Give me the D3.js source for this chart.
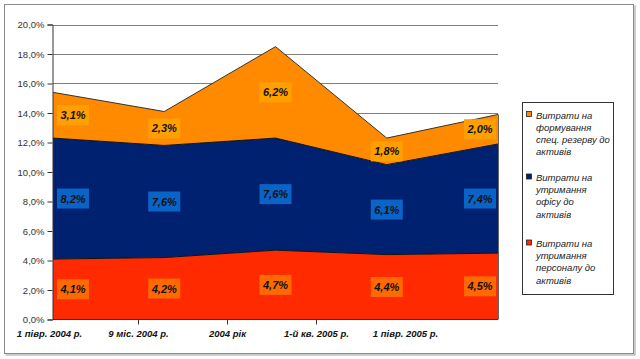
<!DOCTYPE html>
<html><head><meta charset="utf-8">
<script src="https://cdn.jsdelivr.net/npm/d3@7"></script>
<style>
html,body{margin:0;padding:0;background:#fff;}
svg{display:block;font-family:"Liberation Sans",Arial,sans-serif;}
</style></head>
<body>
<svg id="c" width="640" height="359"></svg>
<script>
const categories = ["1 пiвр. 2004 р.", "9 міс. 2004 р.", "2004 рік", "1-й кв. 2005 р.", "1 пiвр. 2005 р."];
const personnel = [4.1, 4.2, 4.7, 4.4, 4.5];
const office = [8.2, 7.6, 7.6, 6.1, 7.4];
const reserve = [3.1, 2.3, 6.2, 1.8, 2.0];
const yTicks = [0, 2, 4, 6, 8, 10, 12, 14, 16, 18, 20];
const seriesNames = ["Витрати на утримання персоналу до активів", "Витрати на утримання офісу до активів", "Витрати на формування спец. резерву до активів"];
const legendLines = [
  ["Витрати на", "формування", "спец. резерву до", "активів"],
  ["Витрати на", "утримання", "офісу до", "активів"],
  ["Витрати на", "утримання", "персоналу до", "активів"]
];
const areaColors = ["#ff2a00", "#00216f", "#ff8a00"];
const labelColors = ["#ff6a00", "#0a64c8", "#ffa000"];

const svg = d3.select("#c");
svg.append("rect").attr("x", 4.5).attr("y", 4.5).attr("width", 629).attr("height", 349)
  .attr("fill", "#fff").attr("stroke", "#8a8a8a").attr("stroke-width", 1);
svg.append("path").attr("d", "M635,5.5 V355 H5.5").attr("fill", "none").attr("stroke", "#9a9a9a").attr("stroke-width", 1);

const x0 = 53, x1 = 498, yBot = 319.5, yTop = 24.5;
const x = d3.scalePoint().domain(categories).range([x0, x1]);
const xLab = d3.scalePoint().domain(categories).range([49, 405]);
const y = d3.scaleLinear().domain([0, 20]).range([yBot, yTop]);

// gridlines
svg.append("g").selectAll("line").data(yTicks.filter(d => d > 0)).join("line")
  .attr("x1", x0).attr("x2", x1).attr("y1", d => Math.round(y(d)) + 0.5).attr("y2", d => Math.round(y(d)) + 0.5)
  .attr("stroke", "#808080").attr("stroke-width", 1);

// stack
const rows = categories.map((c, i) => ({cat: c, p: personnel[i], o: office[i], r: reserve[i]}));
const stack = d3.stack().keys(["p", "o", "r"])(rows);
const area = d3.area().x(d => x(d.data.cat)).y0(d => y(d[0])).y1(d => y(d[1]));
const line = d3.line().x(d => x(d.data.cat)).y(d => y(d[1]));
svg.append("g").selectAll("path").data(stack).join("path")
  .attr("d", area).attr("fill", (d, i) => areaColors[i]);
svg.append("g").selectAll("path").data(stack).join("path")
  .attr("d", line).attr("fill", "none").attr("stroke", (d, i) => i === 2 ? "#333" : "#111").attr("stroke-width", 1);
// right edge line
svg.append("line").attr("x1", x1 + 0.5).attr("x2", x1 + 0.5).attr("y1", y(stack[2][4][1])).attr("y2", yBot)
  .attr("stroke", "#666");

// y axis
const yAxis = d3.axisLeft(y).tickValues(yTicks).tickSize(5).tickPadding(3)
  .tickFormat(d => d3.format(".1f")(d).replace(".", ",") + "%");
const gy = svg.append("g").attr("transform", `translate(${x0 - 0.5},0)`).call(yAxis);
gy.select(".domain").attr("stroke", "#333");
gy.selectAll(".tick line").attr("stroke", "#333");
gy.selectAll(".tick text").attr("font-size", 9.5).attr("fill", "#333").attr("font-family", "Liberation Sans, Arial, sans-serif");

// x axis line
svg.append("line").attr("x1", x0).attr("x2", x1).attr("y1", yBot).attr("y2", yBot).attr("stroke", "#333");
const xAxis = d3.axisBottom(xLab).tickSize(5).tickPadding(6);
const gx = svg.append("g").attr("transform", `translate(0,${yBot})`).call(xAxis);
gx.select(".domain").remove();
gx.selectAll(".tick line").attr("stroke", "#333").attr("opacity", (d, i) => (i > 0 && i < 4) ? 1 : 0);
gx.selectAll(".tick text").attr("font-size", 9.5).attr("font-weight", "bold").attr("font-style", "italic")
  .attr("fill", "#111").attr("font-family", "Liberation Sans, Arial, sans-serif");

// data labels
const bw = 32, bh = 20;
stack.forEach((s, si) => {
  const g = svg.append("g");
  s.forEach((d, i) => {
    let cx = x(d.data.cat);
    cx = Math.max(x0 + 4 + bw / 2, Math.min(cx, x1 - 2 - bw / 2));
    const cy = y((d[0] + d[1]) / 2);
    g.append("rect").attr("x", cx - bw / 2).attr("y", cy - bh / 2).attr("width", bw).attr("height", bh)
      .attr("fill", labelColors[si]);
    g.append("text").attr("x", cx).attr("y", cy + 4).attr("text-anchor", "middle")
      .attr("font-size", 11).attr("font-weight", "bold").attr("font-style", "italic").attr("fill", "#111")
      .text(d3.format(".1f")(d[1] - d[0]).replace(".", ",") + "%");
  });
});

// legend
svg.append("rect").attr("x", 522.5).attr("y", 102.5).attr("width", 91).attr("height", 192)
  .attr("fill", "#fff").attr("stroke", "#333");
const legColors = [areaColors[2], areaColors[1], areaColors[0]];
const legTop = [115, 177.5, 243.5];
legendLines.forEach((lines, k) => {
  svg.append("rect").attr("x", 526.5).attr("y", legTop[k] - 3.5).attr("width", 5).attr("height", 5)
    .attr("fill", legColors[k]).attr("stroke", "#222").attr("stroke-width", 0.8);
  lines.forEach((t, j) => {
    svg.append("text").attr("x", 536).attr("y", legTop[k] + 3.5 + j * 12.2)
      .attr("font-size", 9.5).attr("font-style", "italic").attr("fill", "#222").text(t);
  });
});
</script>
</body></html>
